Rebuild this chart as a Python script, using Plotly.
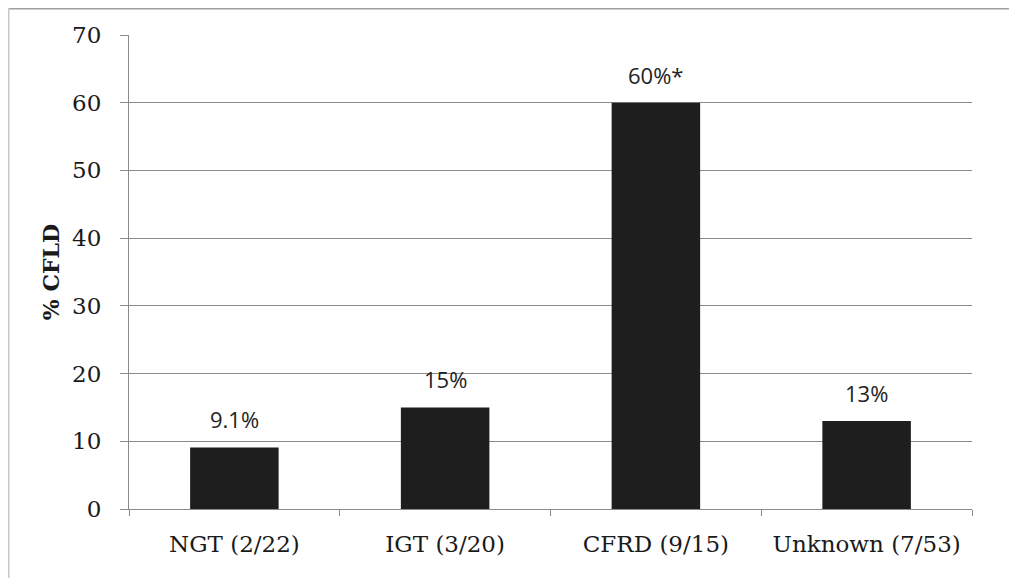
import plotly.graph_objects as go

categories = ["NGT (2/22)", "IGT (3/20)", "CFRD (9/15)", "Unknown (7/53)"]
values = [9.1, 15, 60, 13]
labels = ["9.1%", "15%", "60%*", "13%"]
y_ticks = [0, 10, 20, 30, 40, 50, 60, 70]

# the page body has an 8px margin, so the figure starts at (8, 8) in the window
OFF = 8
W, H = 1017 - OFF, 578 - OFF
ml, mr, mt, mb = 129 - OFF, 45, 35 - OFF, 69
pw, ph = W - ml - mr, H - mt - mb

SERIF = "DejaVu Serif, Liberation Serif, serif"

fig = go.Figure()
fig.add_trace(go.Bar(
    x=categories, y=values, width=0.42,
    marker=dict(color="#1e1e1e", line=dict(width=0)),
    hoverinfo="skip",
))

for c, v, t in zip(categories, values, labels):
    fig.add_annotation(x=c, y=v, text=t, showarrow=False, yanchor="bottom", yshift=11,
                       font=dict(family="Open Sans, Lato, sans-serif", size=22, color="#222"))

def px_x(x):
    return (x - ml) / pw

def px_y(y):
    return (H - mb - y) / ph

fig.add_shape(type="line", xref="paper", yref="paper", x0=px_x(0), x1=px_x(W + 20),
              y0=px_y(0.5), y1=px_y(0.5), line=dict(color="#a0a0a0", width=2))
fig.add_shape(type="line", xref="paper", yref="paper", x0=px_x(0.5), x1=px_x(0.5),
              y0=px_y(0), y1=px_y(H + 20), line=dict(color="#c8c8c8", width=2))

fig.update_layout(
    width=W, height=H,
    margin=dict(l=ml, r=mr, t=mt, b=mb, autoexpand=False),
    paper_bgcolor="white", plot_bgcolor="white",
    showlegend=False,
    xaxis=dict(
        type="category", showgrid=False, showline=True, linecolor="#8a8a8a", linewidth=1,
        ticks="outside", tickson="boundaries", ticklen=6, tickcolor="#8a8a8a",
        ticklabelstandoff=14,
        tickfont=dict(family=SERIF, size=23, color="#1a1a1a"),
    ),
    yaxis=dict(
        range=[0, 70], tickvals=y_ticks, showgrid=True, gridcolor="#8a8a8a", gridwidth=1,
        showline=True, linecolor="#8a8a8a", linewidth=1, zeroline=False,
        ticks="outside", ticklen=8, tickcolor="#8a8a8a",
        ticklabelstandoff=14,
        tickfont=dict(family=SERIF, size=23, color="#1a1a1a"),
        title=dict(text="<b>% CFLD</b>", standoff=6,
                   font=dict(family=SERIF, size=22, color="#1a1a1a")),
    ),
)

fig.write_html("out.html")
